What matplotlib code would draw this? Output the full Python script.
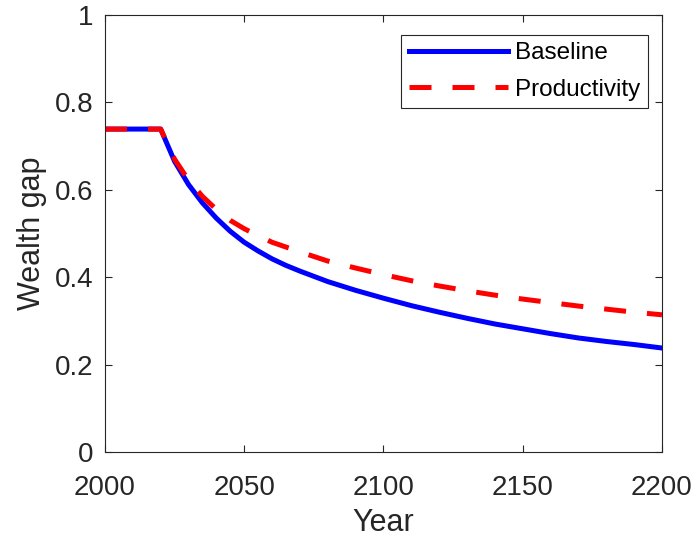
import matplotlib
matplotlib.use("Agg")
import matplotlib.pyplot as plt

plt.rcParams['font.family'] = ['Liberation Sans', 'DejaVu Sans']

years = [2000, 2020, 2025, 2030, 2035, 2040, 2045, 2050, 2055, 2060, 2065, 2070, 2080,
         2090, 2100, 2110, 2120, 2130, 2140, 2150, 2160, 2170, 2180, 2190, 2200]
baseline = [0.739, 0.739, 0.665, 0.612, 0.570, 0.535, 0.505, 0.480, 0.460, 0.442,
            0.427, 0.414, 0.390, 0.370, 0.352, 0.335, 0.320, 0.306, 0.293, 0.282,
            0.271, 0.261, 0.253, 0.246, 0.238]
productivity = [0.739, 0.739, 0.670, 0.622, 0.585, 0.555, 0.530, 0.511, 0.495, 0.480,
                0.469, 0.458, 0.437, 0.421, 0.406, 0.392, 0.380, 0.369, 0.359, 0.350,
                0.342, 0.334, 0.327, 0.320, 0.314]

xticks = [2000, 2050, 2100, 2150, 2200]
yticks = [0, 0.2, 0.4, 0.6, 0.8, 1]
ytick_labels = ['0', '0.2', '0.4', '0.6', '0.8', '1']

fig = plt.figure(figsize=(6.98, 5.42), dpi=100)
ax = fig.add_axes([0.1504, 0.166, 0.798, 0.8063])

ax.plot(years, baseline, color='#0000ff', lw=3.6, label='Baseline')
ax.plot(years, productivity, color='#ff0000', lw=3.6, dashes=(4.4, 4.2),
        label='Productivity')

ax.set_xlim(2000, 2200)
ax.set_ylim(0, 1)
ax.set_xticks(xticks)
ax.set_yticks(yticks)
ax.set_yticklabels(ytick_labels)
ax.tick_params(direction='in', length=5, width=0.8, top=True, right=True,
               labelsize=20, colors='#262626', labelcolor='#262626')
ax.tick_params(axis='x', pad=16.5)
ax.tick_params(axis='y', pad=8)
for s in ax.spines.values():
    s.set_color('#262626')
    s.set_linewidth(0.8)

ax.set_xlabel('Year', fontsize=22, color='#262626', labelpad=5)
ax.set_ylabel('Wealth gap', fontsize=22, color='#262626', labelpad=6)

leg = ax.legend(loc='upper right', bbox_to_anchor=(0.9749, 0.9542), borderaxespad=0,
                fontsize=17.5, fancybox=False, edgecolor='#262626',
                framealpha=1, handlelength=4.1, labelspacing=0.6,
                handletextpad=0.3, borderpad=0.3)
leg.get_frame().set_linewidth(0.8)

fig.savefig('out.png', dpi=100)
